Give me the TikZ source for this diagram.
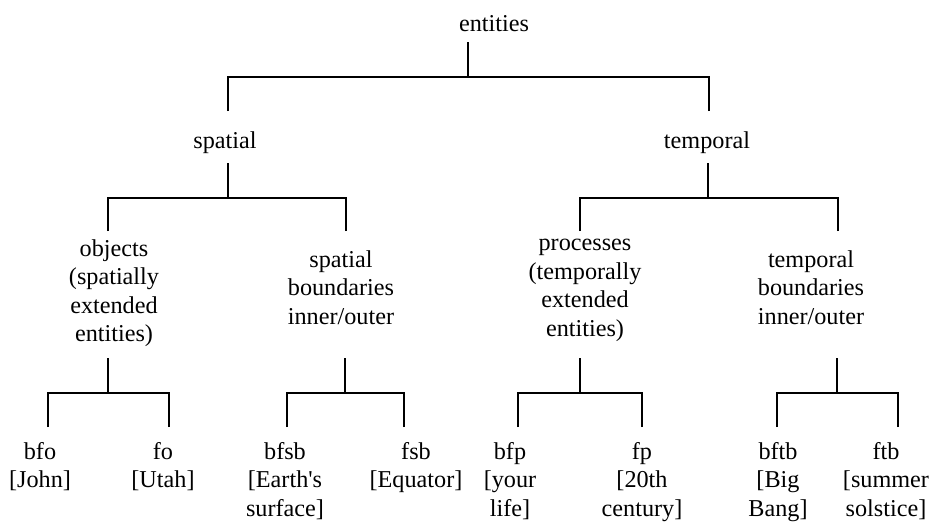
\documentclass[tikz,border=0pt]{standalone}
\usepackage{fontspec}
\setmainfont{Liberation Serif}
\newcommand\treefont{\fontsize{15.5}{18.3}\selectfont}
\begin{document}
\begin{tikzpicture}[x=0.0225cm,y=-0.0225cm,line width=1.7pt,
	lbl/.style={anchor=north,inner sep=0pt,align=center,font=\treefont,yshift=12.81pt,execute at begin node=\strut}]
	\useasboundingbox (0,0) rectangle (945,524);
	
	\node[lbl] (ent) at (494,30) {entities};
	\node[lbl] (spa) at (225,147) {spatial};
	\node[lbl] (tem) at (707,147) {temporal};
	\node[lbl] (obj) at (114,258) {objects\\(spatially\\extended\\entities)};
	\node[lbl] (sbd) at (341,269) {spatial\\boundaries\\inner/outer};
	\node[lbl] (pro) at (585,258) {processes\\(temporally\\extended\\entities)};
	\node[lbl] (tbd) at (811,269) {temporal\\boundaries\\inner/outer};
	
	\node[lbl] (bfo) at (40,461) {bfo\\{[John]}};
	\node[lbl] (fo) at (163,461) {fo\\{[Utah]}};
	\node[lbl] (bfsb) at (285,461) {bfsb\\{[Earth\textquotesingle s}\\surface]};
	\node[lbl] (fsb) at (416,461) {fsb\\{[Equator]}};
	\node[lbl] (bfp) at (510,461) {bfp\\{[your}\\life]};
	\node[lbl] (fp) at (642,461) {fp\\{[20th}\\century]};
	\node[lbl] (bftb) at (778,461) {bftb\\{[Big}\\Bang]};
	\node[lbl] (ftb) at (886,461) {ftb\\{[summer}\\solstice]};
	
	\foreach \n/\x/\y in {ent/468/42, spa/228/163, tem/708/163, obj/108/358, sbd/345/358, pro/580/358, tbd/837/358}
	{
		\coordinate (\n-up) at (\x,\y);
		\path (\n-up) ++(0,35) coordinate (\n-j);
		\draw (\n-up) -- (\n-j);
	}
	\foreach \n/\p/\x/\y in {spa/ent/228/111, tem/ent/709/111, obj/spa/108/231, sbd/spa/346/231, pro/tem/580/231, tbd/tem/838/231, bfo/obj/48/427, fo/obj/169/427, bfsb/sbd/287/427, fsb/sbd/404/427, bfp/pro/518/427, fp/pro/642/427, bftb/tbd/777/427, ftb/tbd/898/427}
	{
		\coordinate (\n-in) at (\x,\y);
		\draw (\n-in) |- (\p-j);
	}
\end{tikzpicture}
\end{document}
